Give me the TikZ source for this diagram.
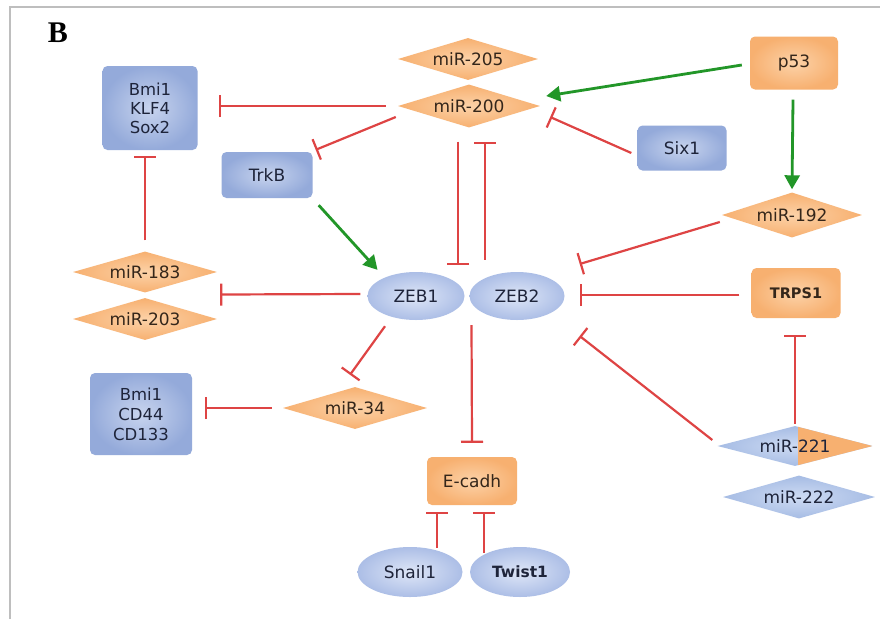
\documentclass[tikz,border=0pt]{standalone}
\usepackage{fontspec}
\setmainfont{DejaVu Sans}
\newfontfamily\serifB{Liberation Serif}
\usetikzlibrary{shapes.geometric,arrows.meta,calc}
\definecolor{orA}{RGB}{247,176,112}
\definecolor{orB}{RGB}{252,210,168}
\definecolor{blA}{RGB}{148,170,218}
\definecolor{blB}{RGB}{200,212,238}
\definecolor{bdA}{RGB}{166,188,228}
\definecolor{bdB}{RGB}{206,219,243}
\definecolor{elA}{RGB}{172,190,230}
\definecolor{elB}{RGB}{222,230,247}
\definecolor{inhred}{RGB}{222,68,68}
\definecolor{actgreen}{RGB}{34,150,40}
\definecolor{txtO}{RGB}{52,38,26}
\definecolor{txtB}{RGB}{30,36,58}
\definecolor{frame}{RGB}{190,190,190}
\tikzset{
  lbl/.style={font=\fontsize{17}{19}\selectfont, align=center},
  obox/.style={lbl, rounded corners=5pt, shading=radial, inner color=orB, outer color=orA, text=txtO, inner sep=0pt},
  bbox/.style={lbl, rounded corners=5pt, shading=radial, inner color=blB, outer color=blA, text=txtB, inner sep=0pt},
  odia/.style={lbl, diamond, aspect=3.4, shading=radial, inner color=orB, outer color=orA, text=txtO, inner sep=0pt},
  bdia/.style={lbl, diamond, aspect=3.6, shading=radial, inner color=bdB, outer color=bdA, text=txtB, inner sep=0pt},
  ell/.style={lbl, ellipse, shading=radial, inner color=elB, outer color=elA, text=txtB, inner sep=0pt},
  inh/.style={draw=inhred, line width=2.2pt, -{Bar[width=22pt,line width=2.2pt]}},
  act/.style={draw=actgreen, line width=2.8pt, -{Triangle[length=14pt,width=15pt]}},
}
\begin{document}
\begin{tikzpicture}[x=1pt,y=-1pt]
\useasboundingbox (0,0) rectangle (880,619);
\fill[white] (0,0) rectangle (880,619);
\draw[frame, line width=1.5pt] (10,619) -- (10,7) -- (880,7);
\node[font=\serifB\bfseries\fontsize{30}{30}\selectfont] (lab) at (58,33) {B};

% nodes
\node[obox, minimum width=88pt, minimum height=53pt] (p53) at (794,63) {p53};
\node[bbox, minimum width=95pt, minimum height=84pt, font=\fontsize{16.5}{19}\selectfont] (bks) at (150,108) {Bmi1\\KLF4\\Sox2};
\node[bbox, minimum width=91pt, minimum height=46pt] (trkb) at (267,175) {TrkB};
\node[bbox, minimum width=89pt, minimum height=45pt] (six1) at (682,148) {Six1};
\node[obox, minimum width=89pt, minimum height=50pt, font=\bfseries\fontsize{14.5}{18}\selectfont] (trps) at (796,293) {TRPS1};
\node[bbox, minimum width=102pt, minimum height=82pt, font=\fontsize{16.5}{20}\selectfont] (bcc) at (141,414) {Bmi1\\CD44\\CD133};
\node[obox, minimum width=90pt, minimum height=48pt] (ecad) at (472,481) {E-cadh};

\node[odia, minimum width=140pt, minimum height=42pt] (m205) at (468,59) {miR-205};
\node[odia, minimum width=142pt, minimum height=43pt] (m200) at (469,106) {miR-200};
\node[odia, minimum width=140pt, minimum height=45pt] (m192) at (792,215) {miR-192};
\node[odia, minimum width=144pt, minimum height=41pt] (m183) at (145,272) {miR-183};
\node[odia, minimum width=144pt, minimum height=42pt] (m203) at (145,319) {miR-203};
\node[odia, minimum width=144pt, minimum height=42pt] (m34) at (355,408) {miR-34};
\node[bdia, minimum width=155pt, minimum height=40pt,
  path picture={\fill[orA] ([xshift=3pt]path picture bounding box.north) rectangle (path picture bounding box.south east);}] (m221) at (795,446) {miR-221};
\node[bdia, minimum width=152pt, minimum height=43pt] (m222) at (799,497) {miR-222};

\node[ell, minimum width=97pt, minimum height=48pt] (zeb1) at (416,296) {ZEB1};
\node[ell, minimum width=95pt, minimum height=48pt] (zeb2) at (517,296) {ZEB2};
\node[ell, minimum width=105pt, minimum height=50pt] (snail) at (410,572) {Snail1};
\node[ell, minimum width=100pt, minimum height=50pt, font=\bfseries\fontsize{15.5}{18}\selectfont] (twist) at (520,572) {Twist1};

% activating
\draw[act] ($(p53.west)+(-8,2)$) -- ($(m200.east)+(6,-10)$);
\draw[act] ($(p53.south)+(-1,10)$) -- ($(m192.north)+(0,-3)$);
\draw[act] ($(trkb.south east)+(6,7)$) -- ($(zeb1.north west)+(-4,-9)$);

% inhibiting
\draw[inh] ($(m200.west)+(-12,0)$) -- ($(bks.east)+(21,-2)$);
\draw[inh] ($(m200.west)+(-2,11)$) -- ($(trkb.north east)+(3,-2)$);
\draw[inh] ($(m200.south)+(-11,14)$) -- ($(zeb1.north)+(42,-7)$);
\draw[inh] ($(zeb2.north)+(-32,-12)$) -- ($(m200.south)+(16,14)$);
\draw[inh] ($(six1.west)+(-6,5)$) -- ($(m200.east)+(10,11)$);
\draw[inh] ($(zeb1.west)+(-7,-2)$) -- ($(m183.east)!0.5!(m203.east)+(3,-1)$);
\draw[inh] ($(m183.north)+(0,-11)$) -- ($(bks.south)+(-5,6)$);
\draw[inh] ($(zeb1.south)+(-31,6)$) -- ($(m34.north)+(-5,-12)$);
\draw[inh] ($(m34.west)+(-11,0)$) -- ($(bcc.east)+(13,-6)$);
\draw[inh] ($(zeb1.south)!0.5!(zeb2.south)+(5,5)$) -- ($(ecad.north)+(0,-14)$);
\draw[inh] ($(snail.north)+(27,1)$) -- ($(ecad.south)+(-35,7)$);
\draw[inh] ($(twist.north)+(-36,6)$) -- ($(ecad.south)+(12,7)$);
\draw[inh] ($(m192.west)+(-2,7)$) -- ($(zeb2.east)+(15,-32)$);
\draw[inh] ($(trps.west)+(-12,2)$) -- ($(zeb2.east)+(15,-1)$);
\draw[inh] ($(m221.west)+(-5,-6)$) -- ($(zeb2.east)+(15,40)$);
\draw[inh] ($(m221.north)+(0,-2)$) -- ($(trps.south)+(-1,17)$);
\end{tikzpicture}
\end{document}
